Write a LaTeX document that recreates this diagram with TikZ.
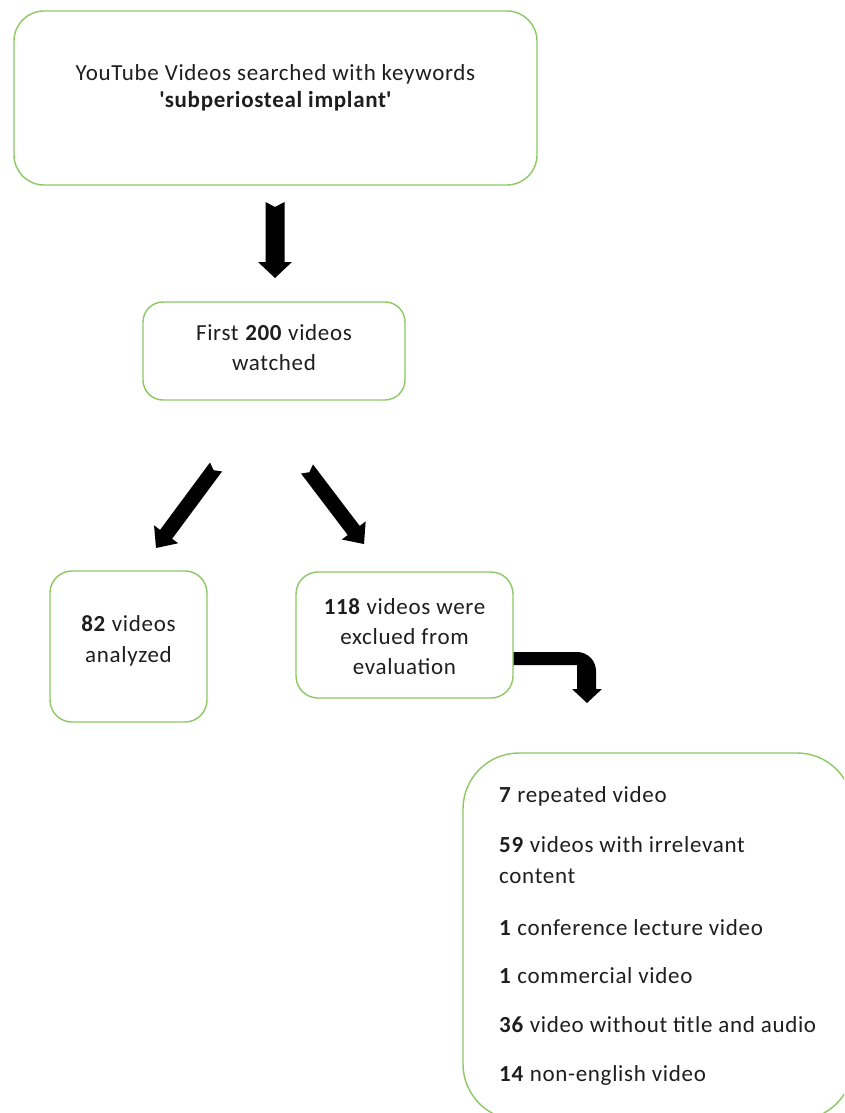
\documentclass[tikz,border=0pt]{standalone}
\usepackage{fontspec}
\setmainfont[LetterSpace=3]{Carlito}
\usetikzlibrary{calc}
\definecolor{boxgreen}{RGB}{140,200,100}
\definecolor{txt}{RGB}{30,30,30}
% fat block arrow: tail, tip, shaft half width, head half width, head length, tail notch
\newcommand\fatarrow[6]{%
  \path (#1) coordinate (fa-a) (#2) coordinate (fa-b);
  \path ($(fa-b)!#5!(fa-a)$) coordinate (fa-c);
  \fill[black] ($(fa-a)!#3!90:(fa-b)$) -- ($(fa-c)!#3!-90:(fa-a)$) -- ($(fa-c)!#4!-90:(fa-a)$)
    -- (fa-b) -- ($(fa-c)!#4!90:(fa-a)$) -- ($(fa-c)!#3!90:(fa-a)$)
    -- ($(fa-a)!#3!-90:(fa-b)$) -- ($(fa-a)!#6!(fa-b)$) -- cycle;}
\begin{document}
\begin{tikzpicture}[x=1pt,y=-1pt,
  box/.style={draw=boxgreen, line width=1.4pt, rectangle, inner sep=0pt},
  lbl/.style={text=txt, align=center, inner sep=0pt},
  lst/.style={text=txt, align=left, inner sep=0pt, anchor=base west,
    font=\fontsize{23}{31}\selectfont}]
\useasboundingbox (0,0) rectangle (844,1113);
\fill[white] (0,0) rectangle (844,1113);
\clip (0,0) rectangle (844,1113);

% boxes
\node[box, rounded corners=30pt, minimum width=523pt, minimum height=174pt] (search) at (275.5,98) {};
\node[lbl, font=\fontsize{23}{27}\selectfont] (searcht) at (275.5,88)
  {YouTube Videos searched with keywords\\\textbf{\textquotesingle subperiosteal implant\textquotesingle}};

\node[box, rounded corners=20pt, minimum width=262pt, minimum height=98pt] (watched) at (274,351) {};
\node[lbl, font=\fontsize{23}{30}\selectfont] (watchedt) at (274,348) {First \textbf{200} videos\\watched};

\node[box, rounded corners=22pt, minimum width=157pt, minimum height=151pt] (analyzed) at (128.5,646.5) {};
\node[lbl, font=\fontsize{23}{31}\selectfont] (analyzedt) at (128.5,641) {\textbf{82} videos\\analyzed};

\node[box, rounded corners=22pt, minimum width=217pt, minimum height=126pt] (excluded) at (404.5,635) {};
\node[lbl, font=\fontsize{23}{30}\selectfont] (excludedt) at (404.5,637) {\textbf{118} videos were\\exclued from\\evaluation};

\node[box, rounded corners=56pt, minimum width=390pt, minimum height=367pt] (reasons) at (658,936.5) {};
\node[lst] (r1) at (499,802) {\textbf{7} repeated video};
\node[lst] (r2) at (499,883) {\textbf{59} videos with irrelevant\\content};
\node[lst] (r3) at (499,935) {\textbf{1} conference lecture video};
\node[lst] (r4) at (499,983) {\textbf{1} commercial video};
\node[lst] (r5) at (499,1032) {\textbf{36} video without title and audio};
\node[lst] (r6) at (499,1081) {\textbf{14} non-english video};

% block arrows
\coordinate (d1a) at (275,202);
\coordinate (d1b) at (275,278);
\fatarrow{d1a}{d1b}{9.5pt}{17pt}{16pt}{5pt}
\coordinate (d2a) at (216,467);
\coordinate (d2b) at (156,548);
\fatarrow{d2a}{d2b}{7.5pt}{15pt}{17pt}{4pt}
\coordinate (d3a) at (307,469);
\coordinate (d3b) at (364,544);
\fatarrow{d3a}{d3b}{7.5pt}{15pt}{17pt}{4pt}

% bent arrow from excluded box to reasons box
\coordinate (e1) at (excluded.east |- 0,652);
\fill[black] (e1) -- (577,652) arc[start angle=-90, end angle=0, radius=19]
  -- (596,689) -- (602,689) -- (587,703) -- (572,689) -- (577,689)
  -- (577,665) -- (excluded.east |- 0,665) -- cycle;
\end{tikzpicture}
\end{document}
